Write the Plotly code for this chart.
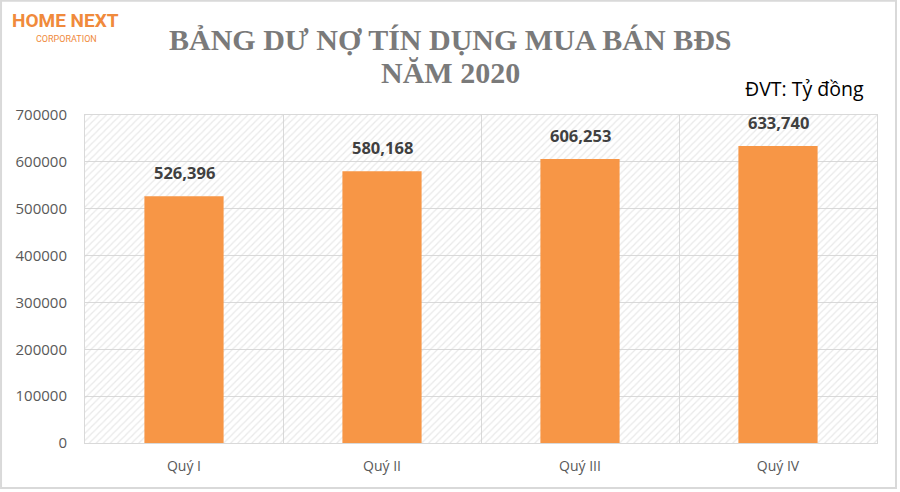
import plotly.graph_objects as go

categories = ["Quý I", "Quý II", "Quý III", "Quý IV"]
values = [526396, 580168, 606253, 633740]
y_ticks = [0, 100000, 200000, 300000, 400000, 500000, 600000, 700000]
y_max = 700000

fig = go.Figure()

# hatched plot-area background (transparent so gridlines show)
fig.add_trace(go.Bar(
    x=categories, y=[y_max] * len(categories), width=1,
    marker=dict(color="rgba(0,0,0,0)", line=dict(width=0),
                pattern=dict(shape="/", fgcolor="#d4d4d4", bgcolor="rgba(0,0,0,0)", size=5, solidity=0.25)),
    hoverinfo="skip", showlegend=False,
))

fig.add_trace(go.Bar(
    x=categories, y=values, width=0.4,
    marker=dict(color="#F79646", line=dict(width=0)),
    showlegend=False,
))

label_annotations = [
    dict(x=c, y=v, xref="x", yref="y", text=f"{v:,}", showarrow=False, yanchor="bottom", yshift=10,
         font=dict(family="Open Sans", size=16.5, color="#404040", weight="bold"))
    for c, v in zip(categories, values)
]

fig.update_layout(
    width=900, height=492,
    margin=dict(l=85, r=23, t=115, b=49),
    paper_bgcolor="white", plot_bgcolor="white",
    barmode="overlay",
    xaxis=dict(
        type="category", tickson="boundaries", showgrid=True, gridcolor="#d9d9d9",
        showline=True, linecolor="#d9d9d9", mirror=True, ticks="", ticklen=0,
        ticklabelstandoff=10,
        tickfont=dict(family="Open Sans", size=14, color="#595959"),
    ),
    yaxis=dict(
        range=[0, y_max], tickvals=y_ticks, tickformat="d",
        showgrid=True, gridcolor="#d9d9d9", showline=True, linecolor="#d9d9d9", mirror=True,
        zeroline=False, ticks="", ticklabelstandoff=14,
        tickfont=dict(family="Open Sans", size=15, color="#595959"),
    ),
    shapes=[dict(type="rect", xref="paper", yref="paper", x0=-0.106, x1=1.024, y0=-0.137, y1=1.348,
                 line=dict(color="#d9d9d9", width=2), fillcolor="rgba(0,0,0,0)")],
    annotations=label_annotations + [
        dict(text="BẢNG DƯ NỢ TÍN DỤNG MUA BÁN BĐS", xref="paper", yref="paper", x=0.461, y=1.2287,
             xanchor="center", yanchor="middle", showarrow=False,
             font=dict(family="Liberation Serif", size=30, color="#7a7a7a", weight="bold")),
        dict(text="NĂM 2020", xref="paper", yref="paper", x=0.461, y=1.131,
             xanchor="center", yanchor="middle", showarrow=False,
             font=dict(family="Liberation Serif", size=30, color="#7a7a7a", weight="bold")),
        dict(text="ĐVT: Tỷ đồng", xref="paper", yref="paper", x=0.986, y=1.082, xanchor="right", yanchor="middle",
             showarrow=False, font=dict(family="Open Sans", size=19.5, color="#000000")),
        dict(text="HOME NEXT", xref="paper", yref="paper", x=-0.024, y=1.2866, xanchor="center", yanchor="middle",
             showarrow=False, borderpad=0, font=dict(family="Roboto", size=19, color="#F08A3C", weight="bold")),
        dict(text="CORPORATION", xref="paper", yref="paper", x=-0.023, y=1.2317, xanchor="center", yanchor="middle",
             showarrow=False, borderpad=0, font=dict(family="Roboto", size=9, color="#F08A3C")),
    ],
)

fig.write_html("out.html")
